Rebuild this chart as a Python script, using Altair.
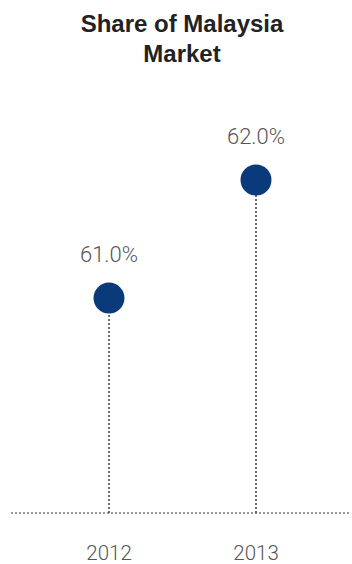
import altair as alt
import pandas as pd

years = [2012, 2013]
shares = [61.0, 62.0]
labels = ["61.0%", "62.0%"]
year_labels = ["2012", "2013"]
base_value = 59.18

df = pd.DataFrame({"year": years, "share": shares, "label": labels,
                   "ylabel": year_labels, "base": [base_value] * len(years)})

TOP = 70
xs = alt.Scale(domain=[2012, 2013], range=[109, 256])
ys = alt.Scale(domain=[base_value, 62.0], range=[513 - TOP, 180 - TOP])

x = alt.X("year:Q", scale=xs, axis=None)

base = alt.Chart(df)

baseline = base.mark_rule(color="#333", strokeDash=[2, 2], strokeWidth=1.2).encode(
    x=alt.value(11), x2=alt.value(350),
    y=alt.Y("mean(base):Q", scale=ys, axis=None),
)

stems = base.mark_rule(color="#333", strokeDash=[2, 2], strokeWidth=1.4).encode(
    x=x, y=alt.Y("base:Q", scale=ys, axis=None), y2="share:Q"
)

dots = base.mark_point(filled=True, shape="circle", size=960, opacity=1,
                       color="#0a3a7a").encode(
    x=x, y=alt.Y("share:Q", scale=ys, axis=None)
)

vals = base.mark_text(font="Roboto", fontWeight=300, fontSize=22, color="#555",
                      baseline="middle", dy=-43).encode(
    x=x, y=alt.Y("share:Q", scale=ys, axis=None), text="label:N"
)

yrs = base.mark_text(font="Roboto", fontWeight=300, fontSize=20.5, color="#555",
                     baseline="middle").encode(
    x=x, y=alt.value(554 - TOP), text="ylabel:N"
)

chart = alt.layer(baseline, stems, dots, vals, yrs).properties(
    width=352, height=564 - TOP,
    autosize=alt.AutoSizeParams(type="none"),
    padding={"left": 0, "right": 0, "top": TOP, "bottom": 0},
    title=alt.TitleParams(["Share of Malaysia", "Market"], font="Liberation Sans",
                          fontSize=24, fontWeight="bold", color="#222",
                          lineHeight=30, anchor="middle", dx=6, offset=3),
).configure_view(stroke=None)

chart.save("out.html", embed_options={"renderer": "svg", "actions": False})
